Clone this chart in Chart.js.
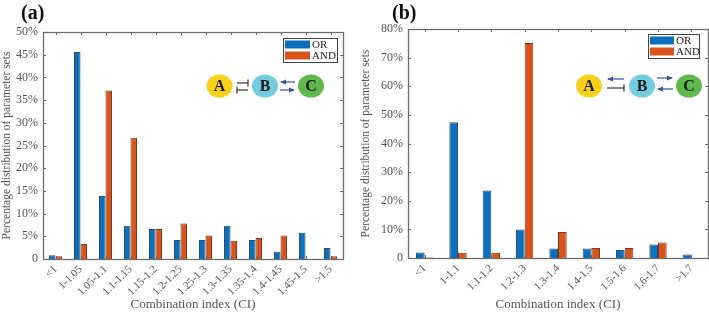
<!DOCTYPE html>
<html>
<head>
<meta charset="utf-8">
<script src="https://cdn.jsdelivr.net/npm/chart.js@4.4.1/dist/chart.umd.min.js"></script>
<style>
  body { margin: 0; background: #fff; }
  #wrap { position: relative; width: 709px; height: 313px; overflow: hidden; }
  #chartA { position: absolute; left: 0; top: 0; }
  #chartB { position: absolute; left: 355px; top: 0; }
</style>
</head>
<body>
<div id="wrap">
  <canvas id="chartA" width="355" height="313"></canvas>
  <canvas id="chartB" width="354" height="313"></canvas>
</div>
<script>
// panel (a)
const a_labels = ['<1', '1-1.05', '1.05-1.1', '1.1-1.15', '1.15-1.2', '1.2-1.25', '1.25-1.3', '1.3-1.35', '1.35-1.4', '1.4-1.45', '1.45-1.5', '>1.5'];
const a_or  = [0.8, 45.6, 13.9, 7.3, 6.6, 4.2, 4.2, 7.3, 4.2, 1.6, 5.8, 2.4];
const a_and = [0.6, 3.3, 37.1, 26.7, 6.6, 7.8, 5.2, 4.0, 4.6, 5.2, 0, 0.6];

// panel (b)
const b_labels = ['<1', '1-1.1', '1.1-1.2', '1.2-1.3', '1.3-1.4', '1.4-1.5', '1.5-1.6', '1.6-1.7', '>1.7'];
const b_or  = [1.9, 47.4, 23.6, 10.0, 3.3, 3.3, 2.8, 4.7, 1.2];
const b_and = [0.2, 1.8, 1.8, 75.1, 9.1, 3.5, 3.5, 5.4, 0];

const series_names = ['OR', 'AND'];

const SERIF = '"Liberation Serif", "Times New Roman", serif';
const BLUE = '#0B6FBA', ORANGE = '#D9541C';
const TXT = '#555';

function arrow(ctx, x1, y1, x2, y2, color) {
  ctx.strokeStyle = color; ctx.fillStyle = color; ctx.lineWidth = 1.2;
  ctx.beginPath(); ctx.moveTo(x1, y1); ctx.lineTo(x2, y2); ctx.stroke();
  const dir = Math.sign(x2 - x1);
  ctx.beginPath();
  ctx.moveTo(x2 + dir * 1, y2);
  ctx.lineTo(x2 - dir * 5, y2 - 2.5);
  ctx.lineTo(x2 - dir * 5, y2 + 2.5);
  ctx.closePath(); ctx.fill();
}
function inhib(ctx, x1, y1, x2, y2) {
  ctx.strokeStyle = '#333'; ctx.lineWidth = 1.2;
  ctx.beginPath(); ctx.moveTo(x1, y1); ctx.lineTo(x2, y2); ctx.stroke();
  ctx.beginPath(); ctx.moveTo(x2, y2 - 3.5); ctx.lineTo(x2, y2 + 3.5); ctx.stroke();
}
function node(ctx, x, y, fill, letter) {
  ctx.fillStyle = fill;
  ctx.beginPath(); ctx.ellipse(x, y, 13, 11.5, 0, 0, Math.PI * 2); ctx.fill();
  ctx.fillStyle = '#1a1a1a';
  ctx.font = 'bold 16px ' + SERIF;
  ctx.textAlign = 'center'; ctx.textBaseline = 'middle';
  ctx.fillText(letter, x, y + 1);
}

// box, inward ticks, legend, panel label and network sketch
const decor = {
  id: 'decor',
  beforeDatasetsDraw(chart, args, o) {
    const ctx = chart.ctx, a = chart.chartArea;
    const x = chart.scales.x, y = chart.scales.y;
    ctx.save();
    ctx.strokeStyle = '#6e6e6e'; ctx.lineWidth = 1;
    x.ticks.forEach((t, i) => {
      const px = Math.round(x.getPixelForTick(i)) + 0.5;
      ctx.beginPath(); ctx.moveTo(px, a.top); ctx.lineTo(px, a.top + 3);
      ctx.moveTo(px, a.bottom); ctx.lineTo(px, a.bottom - 3); ctx.stroke();
    });
    y.ticks.forEach(t => {
      const py = Math.round(y.getPixelForValue(t.value)) + 0.5;
      ctx.beginPath(); ctx.moveTo(a.left, py); ctx.lineTo(a.left + 3, py);
      ctx.moveTo(a.right, py); ctx.lineTo(a.right - 3, py); ctx.stroke();
    });
    ctx.restore();
  },
  afterDraw(chart, args, o) {
    const ctx = chart.ctx, a = chart.chartArea;
    ctx.save();
    ctx.strokeStyle = '#6e6e6e'; ctx.lineWidth = 1.3;
    ctx.strokeRect(Math.round(a.left) + 0.5, Math.round(a.top) + 0.5,
      Math.round(a.right - a.left), Math.round(a.bottom - a.top));

    // legend
    const lx = a.right - o.legRight - o.legW, ly = a.top + o.legTop;
    ctx.fillStyle = '#fff';
    ctx.fillRect(lx, ly, o.legW, 24);
    ctx.strokeStyle = '#444'; ctx.lineWidth = 1;
    ctx.strokeRect(lx + 0.5, ly + 0.5, o.legW, 24);
    [BLUE, ORANGE].forEach((c, i) => {
      ctx.fillStyle = c;
      ctx.fillRect(lx + 2, ly + 2.5 + i * 11, o.swW, 8);
      ctx.fillStyle = '#222';
      ctx.font = '11px ' + SERIF;
      ctx.textAlign = 'left'; ctx.textBaseline = 'middle';
      ctx.fillText(series_names[i], lx + o.swW + 4, ly + 7 + i * 11);
    });

    // panel label
    ctx.fillStyle = '#111';
    ctx.font = 'bold 20px ' + SERIF;
    ctx.textAlign = 'left'; ctx.textBaseline = 'alphabetic';
    ctx.fillText(o.tag, o.tagX, 19);

    o.sketch(ctx);
    ctx.restore();
  }
};

function makeChart(id, labels, orv, andv, ymax, step, pad, yw, xh, ytpad, plugOpts) {
  return new Chart(document.getElementById(id), {
    type: 'bar',
    data: {
      labels: labels,
      datasets: [
        { label: series_names[0], data: orv, backgroundColor: BLUE, borderColor: '#2b4f73', borderWidth: 1,
          categoryPercentage: 0.52, barPercentage: 1.0 },
        { label: series_names[1], data: andv, backgroundColor: ORANGE, borderColor: '#7a3a22', borderWidth: 1,
          categoryPercentage: 0.52, barPercentage: 1.0 }
      ]
    },
    options: {
      responsive: false,
      animation: false,
      layout: { padding: pad },
      plugins: { legend: { display: false }, tooltip: { enabled: false }, decor: plugOpts },
      scales: {
        x: {
          grid: { display: false, drawTicks: false },
          border: { display: false },
          ticks: { autoSkip: false, maxRotation: 45, minRotation: 45, padding: 4,
                   color: TXT, font: { family: SERIF, size: 11 } },
          title: { display: true, text: 'Combination index (CI)', color: TXT,
                   font: { family: SERIF, size: 13 }, padding: { top: 0, bottom: 1 } },
          afterFit: s => { s.height = xh; }
        },
        y: {
          min: 0, max: ymax,
          grid: { display: false, drawTicks: false },
          border: { display: false },
          ticks: { stepSize: step, padding: 5, color: TXT, font: { family: SERIF, size: 12 },
                   callback: v => v === 0 ? '0' : v + '%' },
          title: { display: true, text: 'Percentage distribution of parameter sets', color: TXT,
                   font: { family: SERIF, size: 11.5 }, padding: { top: ytpad, bottom: 0 } },
          afterFit: s => { s.width = yw; }
        }
      }
    },
    plugins: [decor]
  });
}

makeChart('chartA', a_labels, a_or, a_and, 50, 5,
  { top: 32, right: 12, left: 0, bottom: 0 }, 43, 54, 0,
  { legRight: 6, legTop: 6, legW: 54, swW: 25, tag: '(a)', tagX: 21,
    sketch: ctx => {
      inhib(ctx, 237, 83, 248, 83);
      inhib(ctx, 248, 90, 237, 90);
      arrow(ctx, 295, 82, 281, 82, '#3455a4');
      arrow(ctx, 280, 90, 294, 90, '#3455a4');
      node(ctx, 219.5, 86, '#F8D21A', 'A');
      node(ctx, 265, 86, '#74CCE0', 'B');
      node(ctx, 311, 86, '#5DB94A', 'C');
    } });

makeChart('chartB', b_labels, b_or, b_and, 80, 10,
  { top: 29, right: 1, left: 0, bottom: 0 }, 53, 55, 4,
  { legRight: 9, legTop: 5, legW: 51, swW: 24, tag: '(b)', tagX: 37,
    sketch: ctx => {
      arrow(ctx, 269, 79, 253, 79, '#3455a4');
      inhib(ctx, 252, 88, 269, 88);
      arrow(ctx, 302, 78, 317, 78, '#3455a4');
      arrow(ctx, 318, 89, 303, 89, '#3455a4');
      node(ctx, 234, 86, '#F8D21A', 'A');
      node(ctx, 287, 86, '#74CCE0', 'B');
      node(ctx, 334, 86, '#5DB94A', 'C');
    } });
</script>
</body>
</html>
